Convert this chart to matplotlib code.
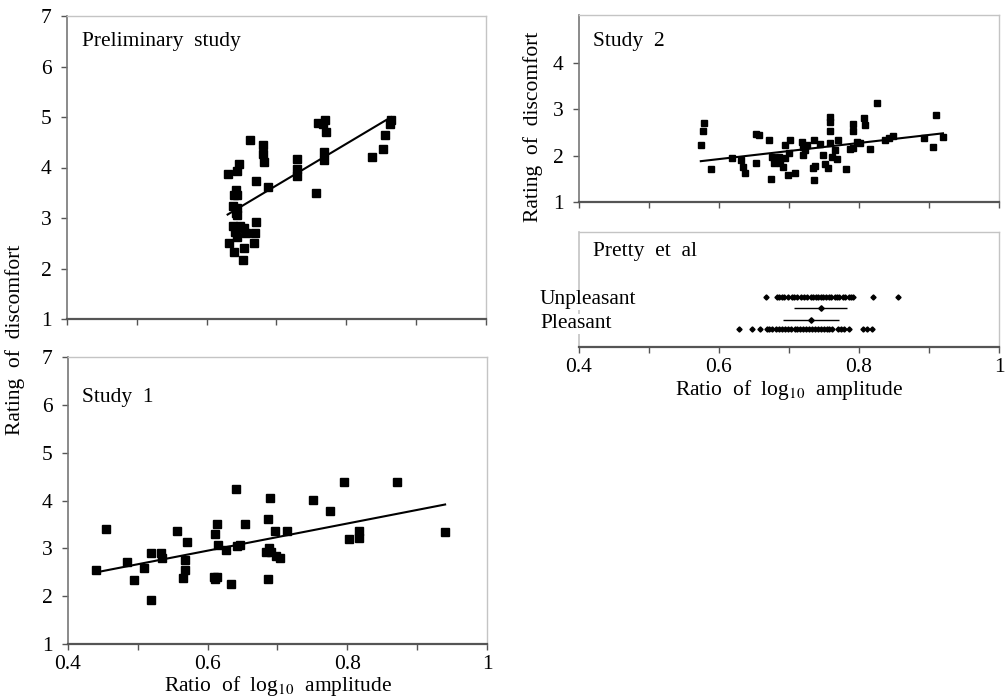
import numpy as np
import matplotlib
matplotlib.use("Agg")
import matplotlib.pyplot as plt

plt.rcParams['font.family'] = ['Liberation Serif', 'DejaVu Serif']
plt.rcParams['mathtext.fontset'] = 'stix'
FS = 15.5
plt.rcParams['font.size'] = FS

# Preliminary study: ratio of log10 amplitude vs rating of discomfort
pre_x = [0.630, 0.644, 0.647, 0.662, 0.680, 0.680, 0.682, 0.670, 0.688, 0.642,
         0.639, 0.644, 0.638, 0.643, 0.642, 0.644, 0.670, 0.637, 0.648, 0.641,
         0.653, 0.657, 0.669, 0.643, 0.632, 0.668, 0.639, 0.654, 0.652, 0.730,
         0.730, 0.730, 0.757, 0.760, 0.766, 0.770, 0.771, 0.768, 0.768, 0.837,
         0.853, 0.855, 0.862, 0.864]
pre_y = [3.87, 3.93, 4.07, 4.55, 4.45, 4.27, 4.11, 3.73, 3.61, 3.55,
         3.46, 3.46, 3.24, 3.19, 3.09, 3.06, 2.93, 2.84, 2.84, 2.73,
         2.81, 2.71, 2.71, 2.63, 2.50, 2.50, 2.33, 2.40, 2.17, 4.16,
         3.98, 3.83, 3.49, 4.89, 4.86, 4.94, 4.70, 4.31, 4.15, 4.20,
         4.37, 4.64, 4.86, 4.94]

# Study 1
s1_x = [0.440, 0.455, 0.485, 0.495, 0.509, 0.519, 0.519, 0.533, 0.535, 0.556,
        0.567, 0.567, 0.565, 0.571, 0.610, 0.614, 0.615, 0.609, 0.614, 0.611,
        0.626, 0.633, 0.640, 0.642, 0.646, 0.654, 0.686, 0.689, 0.688, 0.683,
        0.690, 0.687, 0.697, 0.698, 0.704, 0.714, 0.751, 0.775, 0.795, 0.802,
        0.816, 0.817, 0.871, 0.940]
s1_y = [2.54, 3.41, 2.71, 2.34, 2.58, 2.91, 1.93, 2.91, 2.80, 3.36,
        2.75, 2.54, 2.37, 3.13, 3.31, 3.51, 3.08, 2.41, 2.41, 2.35,
        2.96, 2.25, 4.25, 3.05, 3.08, 3.51, 3.62, 4.05, 3.00, 2.92,
        2.92, 2.36, 3.36, 2.85, 2.80, 3.36, 4.02, 3.78, 4.38, 3.19,
        3.36, 3.21, 4.38, 3.34]

# Study 2
s2_x = [0.574, 0.577, 0.578, 0.588, 0.619, 0.631, 0.634, 0.637, 0.653, 0.657,
        0.653, 0.671, 0.674, 0.678, 0.675, 0.680, 0.685, 0.687, 0.692, 0.694,
        0.694, 0.699, 0.700, 0.702, 0.709, 0.718, 0.720, 0.720, 0.723, 0.725,
        0.734, 0.736, 0.737, 0.735, 0.744, 0.749, 0.751, 0.756, 0.758, 0.758,
        0.759, 0.759, 0.761, 0.766, 0.768, 0.770, 0.782, 0.787, 0.791, 0.791,
        0.792, 0.797, 0.802, 0.807, 0.809, 0.815, 0.826, 0.837, 0.843, 0.849,
        0.893, 0.905, 0.910, 0.920]
s2_y = [2.24, 2.53, 2.70, 1.71, 1.95, 1.91, 1.76, 1.62, 2.47, 2.45,
        1.84, 2.34, 1.49, 1.84, 1.98, 1.91, 1.98, 1.84, 1.76, 1.94,
        2.23, 1.58, 2.05, 2.34, 1.62, 2.30, 2.18, 2.02, 2.12, 2.23,
        1.73, 1.48, 1.78, 2.34, 2.25, 2.02, 1.82, 1.73, 2.84, 2.73,
        2.53, 2.28, 1.98, 2.12, 1.92, 2.34, 1.71, 2.14, 2.68, 2.54,
        2.16, 2.30, 2.28, 2.81, 2.66, 2.14, 3.13, 2.34, 2.38, 2.43,
        2.38, 2.18, 2.89, 2.41]

# Pretty et al: individual ratios per group, plus mean and spread
unpl_x = [0.667, 0.683, 0.686, 0.690, 0.693, 0.699, 0.704, 0.707, 0.712, 0.717,
          0.721, 0.725, 0.731, 0.734, 0.739, 0.742, 0.746, 0.749, 0.753, 0.757,
          0.760, 0.765, 0.768, 0.772, 0.777, 0.780, 0.785, 0.789, 0.792, 0.820,
          0.855]
pleas_x = [0.629, 0.647, 0.658, 0.668, 0.672, 0.676, 0.681, 0.686, 0.690, 0.694,
           0.699, 0.703, 0.708, 0.711, 0.716, 0.720, 0.724, 0.728, 0.733, 0.737,
           0.741, 0.745, 0.750, 0.754, 0.757, 0.762, 0.770, 0.774, 0.779, 0.785,
           0.806, 0.812, 0.819]
unpl_mean, unpl_err = 0.745, 0.0385
pleas_mean, pleas_err = 0.731, 0.040

x_major = [0.4, 0.6, 0.8, 1.0]
x_major_labels = ['0.4', '0.6', '0.8', '1']
x_minor = [0.5, 0.7, 0.9]

W, H = 1007, 698
fig = plt.figure(figsize=(W / 100, H / 100), dpi=100)


def box(l, t, r, b):
    return [l / W, 1 - b / H, (r - l) / W, (b - t) / H]


def style(ax, show_xlabels, left_color='#777777'):
    ax.set_xlim(0.4, 1.0)
    ax.set_xticks(x_major)
    ax.set_xticks(x_minor, minor=True)
    if show_xlabels:
        ax.set_xticklabels(x_major_labels)
    else:
        ax.set_xticklabels([])
    for side in ['top', 'right']:
        ax.spines[side].set_color('#c4c4c4')
        ax.spines[side].set_linewidth(1.0)
    ax.spines['left'].set_color(left_color)
    ax.spines['left'].set_linewidth(1.2)
    ax.spines['bottom'].set_color('#555555')
    ax.spines['bottom'].set_linewidth(1.6)
    ax.tick_params(axis='both', which='both', direction='out', length=4,
                   width=1, color='#555555', labelsize=FS)
    ax.tick_params(axis='x', pad=4)
    ax.tick_params(axis='y', pad=7)


def scatter_fit(ax, xs, ys, ms):
    xs = np.array(xs)
    ys = np.array(ys)
    ax.plot(xs, ys, 's', color='black', ms=ms, mec='black', zorder=3)
    k, b = np.polyfit(xs, ys, 1)
    fx = np.array([xs.min(), xs.max()])
    ax.plot(fx, k * fx + b, color='black', lw=1.5, zorder=4)


# Preliminary study
ax1 = fig.add_axes(box(67, 16, 486, 319))
scatter_fit(ax1, pre_x, pre_y, 5.8)
ax1.set_ylim(1, 7)
ax1.set_yticks(range(1, 8))
style(ax1, False)
ax1.text(0.036, 0.915, 'Preliminary  study', transform=ax1.transAxes,
         va='center')

# Study 1
ax2 = fig.add_axes(box(68, 357, 487, 644))
scatter_fit(ax2, s1_x, s1_y, 5.6)
ax2.set_ylim(1, 7)
ax2.set_yticks(range(1, 8))
style(ax2, True)
ax2.text(0.034, 0.86, 'Study  1', transform=ax2.transAxes, va='center')
ax2.set_xlabel('Ratio  of  log$_{10}$  amplitude', labelpad=0)

fig.text(15 / W, 1 - 340 / H, 'Rating  of  discomfort', rotation=90,
         ha='center', va='center')

# Study 2
ax3 = fig.add_axes(box(579, 15, 999, 202))
scatter_fit(ax3, s2_x, s2_y, 5.0)
ax3.set_ylim(1, 5.04)
ax3.set_yticks([1, 2, 3, 4])
style(ax3, False)
ax3.text(0.034, 0.86, 'Study  2', transform=ax3.transAxes, va='center')
ax3.set_ylabel('Rating  of  discomfort')
ax3.yaxis.set_label_coords(-0.086, 0.40)

# Pretty et al
ax4 = fig.add_axes(box(579, 232, 999, 347))
ax4.set_ylim(0, 1)
ax4.set_yticks([])
rows = {'Unpleasant': 0.435, 'Pleasant': 0.157}
ax4.plot(unpl_x, [rows['Unpleasant']] * len(unpl_x), 'D', color='black', ms=2.6)
ax4.plot(pleas_x, [rows['Pleasant']] * len(pleas_x), 'D', color='black', ms=2.6)
ax4.errorbar([unpl_mean], [0.339], xerr=[unpl_err], fmt='D', color='black',
             ms=2.8, lw=1.0, capsize=0)
ax4.errorbar([pleas_mean], [0.235], xerr=[pleas_err], fmt='D', color='black',
             ms=2.8, lw=1.0, capsize=0)
style(ax4, True, left_color='#c4c4c4')
ax4.tick_params(axis='y', length=0)
ax4.text(0.034, 0.83, 'Pretty  et  al', transform=ax4.transAxes, va='center')
for name, yy in [('Unpleasant', 0.41), ('Pleasant', 0.20)]:
    ax4.text(-0.093, yy, name, transform=ax4.transAxes, va='center', ha='left',
             zorder=5, clip_on=False,
             bbox=dict(facecolor='white', edgecolor='none', pad=0.5))
ax4.set_xlabel('Ratio  of  log$_{10}$  amplitude', labelpad=1)

fig.savefig('out.png', dpi=100, facecolor='white')
